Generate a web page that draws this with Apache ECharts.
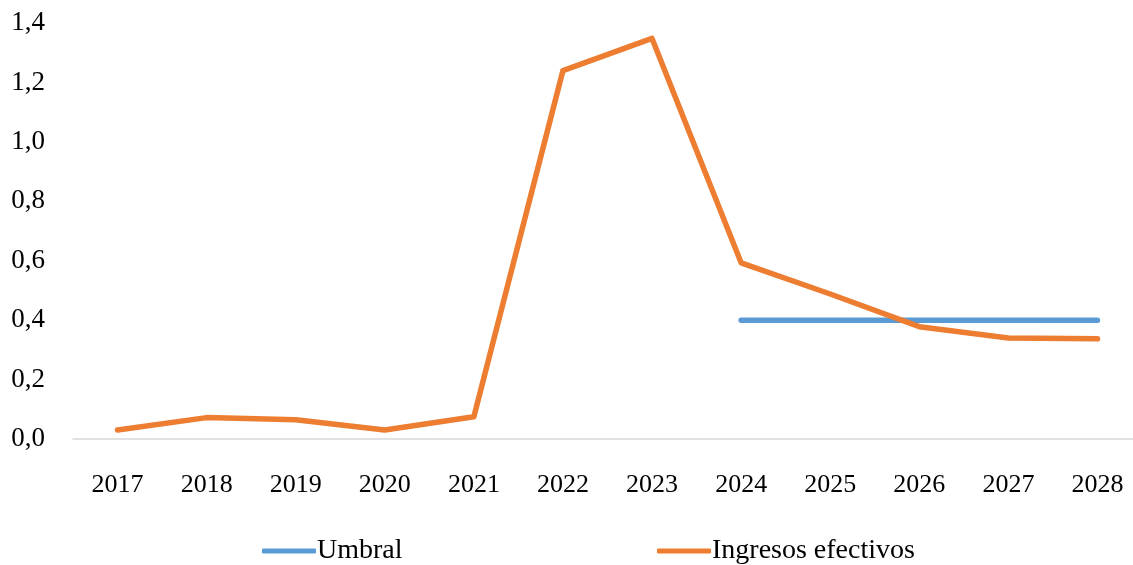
<!DOCTYPE html>
<html>
<head>
<meta charset="utf-8">
<style>
    html, body { margin: 0; padding: 0; background: #fff; }
    #main { width: 1133px; height: 565px; }
</style>
<script src="https://cdn.jsdelivr.net/npm/echarts@6/dist/echarts.min.js"></script>
</head>
<body>
<div id="main"></div>
<script>
    // 数据
    var years = ['2017', '2018', '2019', '2020', '2021', '2022', '2023', '2024', '2025', '2026', '2027', '2028'];
    var umbral = [null, null, null, null, null, null, null, 0.4, 0.4, 0.4, 0.4, 0.4];
    var ingresos = [0.03, 0.072, 0.065, 0.03, 0.075, 1.24, 1.348, 0.593, 0.488, 0.378, 0.34, 0.337];

    var font = 'Liberation Serif';
    var legendText = { fontFamily: font, fontSize: 28, color: '#000', padding: [0, 0, 0, -4] };
    var myChart = echarts.init(document.getElementById('main'));
    var option = {
        animation: false,
        color: ['#5B9BD5', '#ED7D31'],
        textStyle: { fontFamily: font },
        grid: { left: 73, width: 1069, top: 23, bottom: 126, outerBoundsMode: 'none' },
        legend: [
            {
                left: 262, top: 537, padding: 0, itemWidth: 54, itemHeight: 5, icon: 'roundRect',
                textStyle: legendText, data: ['Umbral']
            },
            {
                left: 657, top: 537, padding: 0, itemWidth: 54, itemHeight: 5, icon: 'roundRect',
                textStyle: legendText, data: ['Ingresos efectivos']
            }
        ],
        xAxis: {
            type: 'category',
            data: years,
            boundaryGap: true,
            axisLine: { lineStyle: { color: '#d9d9d9', width: 1.5 } },
            axisTick: { show: false },
            axisLabel: { color: '#000', fontSize: 26, fontFamily: font, margin: 33 }
        },
        yAxis: {
            type: 'value',
            min: 0,
            max: 1.4,
            interval: 0.2,
            splitLine: { show: false },
            axisLine: { show: false },
            axisTick: { show: false },
            axisLabel: {
                color: '#000', fontSize: 27, fontFamily: font, margin: 28,
                formatter: function (v) { return v.toFixed(1).replace('.', ','); }
            }
        },
        series: [
            {
                name: 'Umbral',
                type: 'line',
                data: umbral,
                symbol: 'none',
                lineStyle: { width: 5.5, cap: 'round' }
            },
            {
                name: 'Ingresos efectivos',
                type: 'line',
                data: ingresos,
                symbol: 'none',
                lineStyle: { width: 5.5, cap: 'round', join: 'round' }
            }
        ]
    };
    myChart.setOption(option);
</script>
</body>
</html>
